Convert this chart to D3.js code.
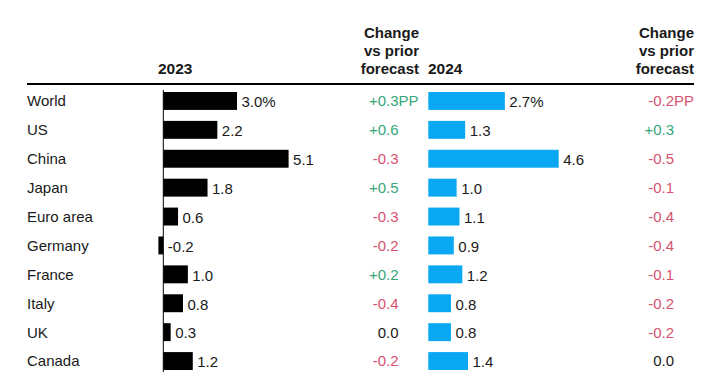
<!DOCTYPE html>
<html>
<head>
<meta charset="utf-8">
<script src="https://cdn.jsdelivr.net/npm/d3@7"></script>
<style>
  body { margin: 0; background: #fff; }
  text { font-family: "Liberation Sans", Arial, sans-serif; }
</style>
</head>
<body>
<div id="chart"></div>
<script>
// data
const countries = ["World", "US", "China", "Japan", "Euro area", "Germany", "France", "Italy", "UK", "Canada"];
const growth2023 = [3.0, 2.2, 5.1, 1.8, 0.6, -0.2, 1.0, 0.8, 0.3, 1.2];
const change2023 = [0.3, 0.6, -0.3, 0.5, -0.3, -0.2, 0.2, -0.4, 0.0, -0.2];
const growth2024 = [2.7, 1.3, 4.6, 1.0, 1.1, 0.9, 1.2, 0.8, 0.8, 1.4];
const change2024 = [-0.2, 0.3, -0.5, -0.1, -0.4, -0.4, -0.1, -0.2, -0.2, 0.0];
const headerChange = ["Change", "vs prior", "forecast"];

const width = 711, height = 375;
const green = "#38a67a", red = "#d6526f", ink = "#1a1a1a";

const svg = d3.select("#chart").append("svg")
  .attr("width", width)
  .attr("height", height);

const y = d3.scaleBand()
  .domain(countries)
  .range([86.5, 375.5])
  .paddingInner(0.38)
  .paddingOuter(0.19);

// each year's bars have their own scale
const x1 = d3.scaleLinear().domain([0, 5.1]).range([163.3, 288.6]);
const x2 = d3.scaleLinear().domain([0, 4.6]).range([428.3, 558.7]);

// plain hyphen instead of d3's unicode minus
const fmt = v => d3.format(".1f")(v).replace("\u2212", "-");
const fmtChange = v => (v > 0 ? "+" : v < 0 ? "-" : "") + fmt(Math.abs(v));
const colChange = v => v > 0 ? green : v < 0 ? red : ink;

// headers
svg.append("text").attr("x", 158).attr("y", 74)
  .attr("font-size", 15.5).attr("font-weight", "bold").attr("fill", ink).text("2023");
svg.append("text").attr("x", 428).attr("y", 74)
  .attr("font-size", 15.5).attr("font-weight", "bold").attr("fill", ink).text("2024");

[419, 694].forEach(xr => {
  svg.append("g").selectAll("text")
    .data(headerChange)
    .join("text")
    .attr("x", xr)
    .attr("y", (d, i) => 38 + i * 18)
    .attr("text-anchor", "end")
    .attr("font-size", 15)
    .attr("font-weight", "bold")
    .attr("fill", ink)
    .text(d => d);
});

// rule under the headers
svg.append("line")
  .attr("x1", 27).attr("x2", 694)
  .attr("y1", 84).attr("y2", 84)
  .attr("stroke", "#000").attr("stroke-width", 2);

const rows = countries.map((c, i) => ({
  c, g1: growth2023[i], d1: change2023[i], g2: growth2024[i], d2: change2024[i], first: i === 0
}));

// country labels
svg.append("g").selectAll("text")
  .data(rows)
  .join("text")
  .attr("x", 27)
  .attr("y", d => y(d.c) + y.bandwidth() / 2)
  .attr("dy", "0.36em")
  .attr("font-size", 15)
  .attr("fill", ink)
  .text(d => d.c);

// 2023 bars
svg.append("g").selectAll("rect")
  .data(rows)
  .join("rect")
  .attr("x", d => Math.min(x1(0), x1(d.g1)))
  .attr("y", d => y(d.c))
  .attr("width", d => Math.abs(x1(d.g1) - x1(0)))
  .attr("height", y.bandwidth())
  .attr("fill", "#000");

// zero line for 2023
svg.append("line")
  .attr("x1", x1(0)).attr("x2", x1(0))
  .attr("y1", y(countries[0]) - 2)
  .attr("y2", y(countries[countries.length - 1]) + y.bandwidth() + 2)
  .attr("stroke", "#000").attr("stroke-width", 1);

svg.append("g").selectAll("text")
  .data(rows)
  .join("text")
  .attr("x", d => Math.max(x1(0), x1(d.g1)) + 4.5)
  .attr("y", d => y(d.c) + y.bandwidth() / 2)
  .attr("dy", "0.42em")
  .attr("font-size", 15)
  .attr("fill", ink)
  .text(d => fmt(d.g1) + (d.first ? "%" : ""));

// 2024 bars
svg.append("g").selectAll("rect")
  .data(rows)
  .join("rect")
  .attr("x", d => Math.min(x2(0), x2(d.g2)))
  .attr("y", d => y(d.c))
  .attr("width", d => Math.abs(x2(d.g2) - x2(0)))
  .attr("height", y.bandwidth())
  .attr("fill", "#0aa8f2");

svg.append("g").selectAll("text")
  .data(rows)
  .join("text")
  .attr("x", d => Math.max(x2(0), x2(d.g2)) + 4.5)
  .attr("y", d => y(d.c) + y.bandwidth() / 2)
  .attr("dy", "0.42em")
  .attr("font-size", 15)
  .attr("fill", ink)
  .text(d => fmt(d.g2) + (d.first ? "%" : ""));

// change columns: numbers right-aligned, "PP" hangs past the edge
function changeColumn(xr, key) {
  const g = svg.append("g");
  g.selectAll("text.num")
    .data(rows)
    .join("text")
    .attr("class", "num")
    .attr("x", xr)
    .attr("y", d => y(d.c) + y.bandwidth() / 2)
    .attr("dy", "0.36em")
    .attr("text-anchor", "end")
    .attr("font-size", 15)
    .attr("fill", d => colChange(d[key]))
    .text(d => fmtChange(d[key]));
  g.selectAll("text.pp")
    .data(rows.filter(d => d.first))
    .join("text")
    .attr("class", "pp")
    .attr("x", xr)
    .attr("y", d => y(d.c) + y.bandwidth() / 2)
    .attr("dy", "0.36em")
    .attr("font-size", 15)
    .attr("fill", d => colChange(d[key]))
    .text("PP");
}
changeColumn(398.5, "d1");
changeColumn(674, "d2");
</script>
</body>
</html>
